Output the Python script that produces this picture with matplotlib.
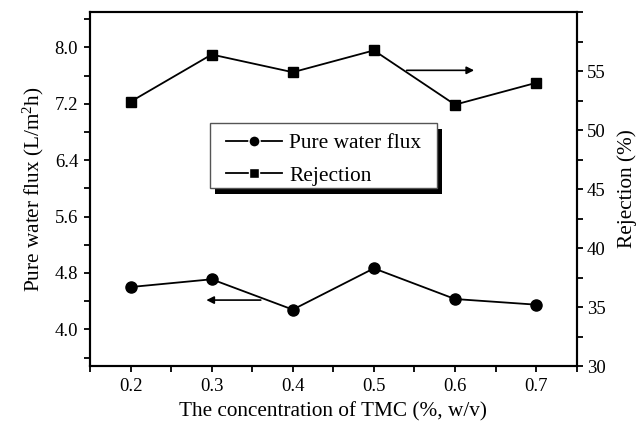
import matplotlib
matplotlib.use("Agg")
import matplotlib.pyplot as plt
from matplotlib.patches import Rectangle
from matplotlib.lines import Line2D
from matplotlib.ticker import MultipleLocator, FormatStrFormatter

plt.rcParams['font.family'] = ['Liberation Serif', 'DejaVu Serif']
plt.rcParams['mathtext.fontset'] = 'custom'
plt.rcParams['mathtext.rm'] = 'Liberation Serif'
plt.rcParams['mathtext.it'] = 'Liberation Serif:italic'
plt.rcParams['mathtext.default'] = 'regular'

tmc = [0.2, 0.3, 0.4, 0.5, 0.6, 0.7]
flux = [4.60, 4.71, 4.28, 4.865, 4.43, 4.35]
rejection = [52.4, 56.4, 54.9, 56.75, 52.15, 54.0]

xlabel = "The concentration of TMC (%, w/v)"
ylabel_left = "Pure water flux (L/m$^{2}$h)"
ylabel_right = "Rejection (%)"
labels = ["Pure water flux", "Rejection"]
left_ticks = [4.0, 4.8, 5.6, 6.4, 7.2, 8.0]
right_ticks = [30, 35, 40, 45, 50, 55]

fig = plt.figure(figsize=(6.37, 4.30), dpi=100)
ax = fig.add_axes([0.1413, 0.1488, 0.764, 0.8232])
ax2 = ax.twinx()

ax.plot(tmc, flux, '-o', color='black', lw=1.3, markersize=8)
ax2.plot(tmc, rejection, '-s', color='black', lw=1.3, markersize=7.5)

ax.set_xlim(0.15, 0.75)
ax.set_ylim(3.48, 8.5)
ax2.set_ylim(30, 60)

ax.xaxis.set_major_locator(MultipleLocator(0.1))
ax.xaxis.set_minor_locator(MultipleLocator(0.05))
ax.xaxis.set_major_formatter(FormatStrFormatter('%.1f'))
ax.set_yticks(left_ticks)
ax.yaxis.set_minor_locator(MultipleLocator(0.4))
ax.yaxis.set_major_formatter(FormatStrFormatter('%.1f'))
ax2.set_yticks(right_ticks)
ax2.yaxis.set_minor_locator(MultipleLocator(2.5))

for a in (ax, ax2):
    for s in a.spines.values():
        s.set_linewidth(1.5)
    a.tick_params(which='both', direction='out', width=1.3, length=4.5, labelsize=13.5, pad=4)
ax.tick_params(axis='x', which='both', top=False)
ax2.tick_params(axis='y', pad=3)

ax.set_xlabel(xlabel, fontsize=15.3, labelpad=5)
ax.set_ylabel(ylabel_left, fontsize=15.3, labelpad=6)
ax2.set_ylabel(ylabel_right, fontsize=15.3, labelpad=8)

ax.annotate('', xy=(0.29, 4.415), xytext=(0.364, 4.415),
            arrowprops=dict(arrowstyle='-|>', color='black', lw=1.2, mutation_scale=11))
ax2.annotate('', xy=(0.627, 55.06), xytext=(0.537, 55.06),
             arrowprops=dict(arrowstyle='-|>', color='black', lw=1.2, mutation_scale=11))

# legend frame with shadow
box_x0, box_x1 = 0.2466, 0.713
box_y0, box_y1 = 0.5037, 0.6856
dx = 4.5 / 486.7
dy = 6.0 / 354.0
ax2.add_patch(Rectangle((box_x0 + dx, box_y0 - dy), box_x1 - box_x0, box_y1 - box_y0,
                        transform=ax2.transAxes, facecolor='black', edgecolor='none', zorder=4))
ax2.add_patch(Rectangle((box_x0, box_y0), box_x1 - box_x0, box_y1 - box_y0,
                        transform=ax2.transAxes, facecolor='white', edgecolor='#555555',
                        lw=1.0, zorder=5))

h1 = Line2D([], [], color='black', lw=1.3, marker='o', markersize=8,
            markeredgecolor='white', markeredgewidth=1.0, markerfacecolor='black')
h2 = Line2D([], [], color='black', lw=1.3, marker='s', markersize=7.5,
            markeredgecolor='white', markeredgewidth=1.0, markerfacecolor='black')
leg = ax2.legend([h1, h2], labels, loc='upper left', bbox_to_anchor=(0.2794, 0.658),
                 borderaxespad=0, borderpad=0, frameon=False, fontsize=15.4,
                 handlelength=2.62, handletextpad=0.34, labelspacing=0.6)
leg.set_zorder(6)

fig.savefig('out.png', dpi=100)
